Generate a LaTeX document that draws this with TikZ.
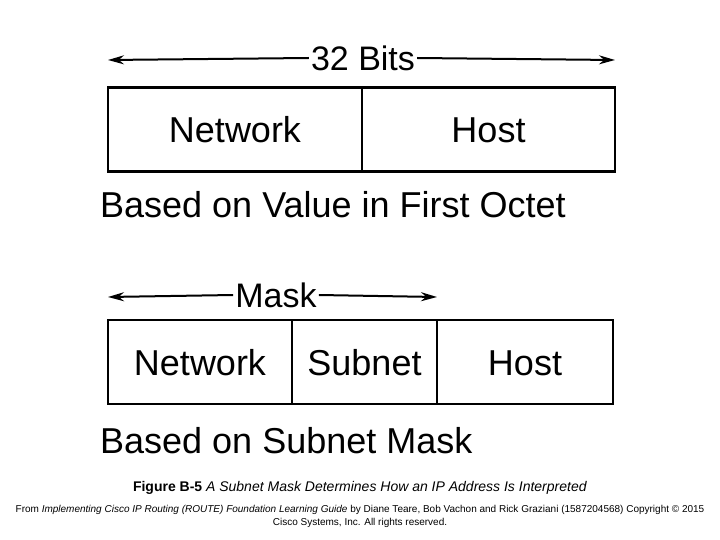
\documentclass[tikz,border=0pt]{standalone}
\usepackage{fontspec}
\setmainfont{Liberation Sans}
\usetikzlibrary{arrows.meta,positioning}
\begin{document}
\begin{tikzpicture}[x=1pt,y=-1pt,
  field/.style={draw,line width=2.5pt,outer sep=0pt,minimum height=84pt,inner sep=0pt,text height=26pt,text depth=0pt,font=\fontsize{36}{38}\selectfont},
  span/.style={-{Stealth[length=16pt,width=9pt]},line width=2pt},
  toplabel/.style={fill=white,inner sep=2pt,text height=24.5pt,text depth=0pt,font=\fontsize{34}{36}\selectfont},
  biglabel/.style={font=\fontsize{36}{38}\selectfont,anchor=west,inner sep=0pt,text height=26pt,text depth=0pt}]
\useasboundingbox (0,0) rectangle (720,540);

% classful address
\node[field,minimum width=254pt] (net1) at (235,129.5) {Network};
\node[field,minimum width=253pt,right=0pt of net1] (host1) {Host};
\node[toplabel] (bits) at (363,58) {32 Bits};
\coordinate (b1l) at (108,60);
\coordinate (b1r) at (615,60);
\draw[span] (bits.west) -- (b1l);
\draw[span] (bits.east) -- (b1r);
\node[biglabel] (lab1) at (100,205) {Based on Value in First Octet};

% subnetted address
\node[field,minimum width=184pt] (net2) at (200,362) {Network};
\node[field,minimum width=145pt,right=0pt of net2] (sub2) {Subnet};
\node[field,minimum width=176pt,right=0pt of sub2] (host2) {Host};
\node[toplabel] (mask) at (276,295) {Mask};
\coordinate (b2l) at (108,297);
\coordinate (b2r) at (437,297);
\draw[span] (mask.west) -- (b2l);
\draw[span] (mask.east) -- (b2r);
\node[biglabel] (lab2) at (100,440) {Based on Subnet Mask};

% caption
\node[font=\fontsize{14}{16}\selectfont] (cap) at (360,488) {\textbf{Figure B-5} \textit{A Subnet Mask Determines How an IP Address Is Interpreted}};
\node[font=\fontsize{10}{13}\selectfont,align=center] (src) at (360,516) {From \textit{Implementing Cisco IP Routing (ROUTE) Foundation Learning Guide} by Diane Teare, Bob Vachon and Rick Graziani (1587204568) Copyright \textcopyright{} 2015\\Cisco Systems, Inc. All rights reserved.};
\end{tikzpicture}
\end{document}
